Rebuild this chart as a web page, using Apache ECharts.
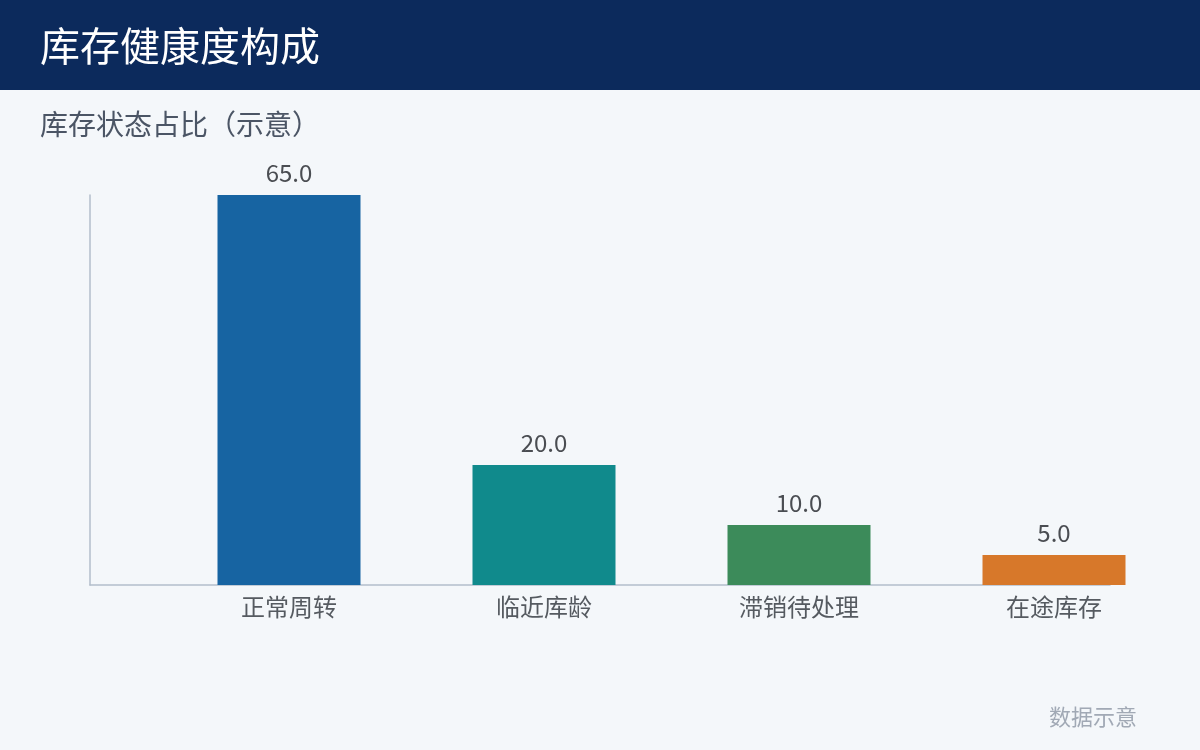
<!DOCTYPE html>
<html>
<head>
<meta charset="utf-8">
<script src="https://cdn.jsdelivr.net/npm/echarts@6/dist/echarts.min.js"></script>
<style>
html,body{margin:0;padding:0;background:#f4f7fa;}
#c{width:1200px;height:750px;}
</style>
</head>
<body>
<div id="c"></div>
<script>
const categories = ['正常周转', '临近库龄', '滞销待处理', '在途库存'];
const values = [65.0, 20.0, 10.0, 5.0];
const barColors = ['#1764a2', '#108a8c', '#3c8b5a', '#d7782a'];
const titleText = '库存健康度构成';
const subtitleText = '库存状态占比（示意）';
const footerText = '数据示意';

const FONT = '"Noto Sans CJK SC", "Noto Sans", sans-serif';
const chart = echarts.init(document.getElementById('c'), null, {renderer: 'canvas'});
chart.setOption({
  backgroundColor: '#f4f7fa',
  animation: false,
  graphic: [{
    type: 'rect', left: 0, top: 0, z: -1,
    shape: {width: 1200, height: 90},
    style: {fill: '#0c2a5c'}
  }],
  title: [
    {text: titleText, left: 40, top: 26, textStyle: {color: '#ffffff', fontSize: 40, fontWeight: 'normal', fontFamily: FONT}, padding: 0},
    {text: subtitleText, left: 40, top: 110, textStyle: {color: '#4b5565', fontSize: 28, fontWeight: 'normal', fontFamily: FONT}, padding: 0},
    {text: footerText, right: 63, top: 706, textStyle: {color: '#a1a9b5', fontSize: 22, fontWeight: 'normal', fontFamily: FONT}, padding: 0}
  ],
  grid: {left: 90, right: 90, top: 195, bottom: 165, containLabel: false},
  xAxis: {
    type: 'category',
    data: categories,
    axisLine: {lineStyle: {color: '#b3becb', width: 1.5}},
    axisTick: {show: false},
    axisLabel: {color: '#555a60', fontSize: 24, fontFamily: FONT, margin: 10, padding: [0, 0, 0, 143]}
  },
  yAxis: {
    type: 'value',
    min: 0,
    max: 'dataMax',
    axisLine: {show: true, lineStyle: {color: '#b3becb', width: 1.5}},
    axisTick: {show: false},
    axisLabel: {show: false},
    splitLine: {show: false}
  },
  series: [
    {
      type: 'bar',
      data: values,
      barWidth: 143,
      barGap: '0%',
      clip: false,
      itemStyle: {color: 'rgba(0,0,0,0)'},
      silent: true
    },
    {
      type: 'bar',
      data: values.map((v, i) => ({value: v, itemStyle: {color: barColors[i]}})),
      barWidth: 143,
      barGap: '0%',
      clip: false,
      label: {
        show: true,
        position: 'top',
        distance: 10,
        formatter: p => p.value.toFixed(1),
        color: '#4a4d52',
        fontSize: 24,
        fontFamily: FONT
      }
    }
  ]
});
</script>
</body>
</html>
